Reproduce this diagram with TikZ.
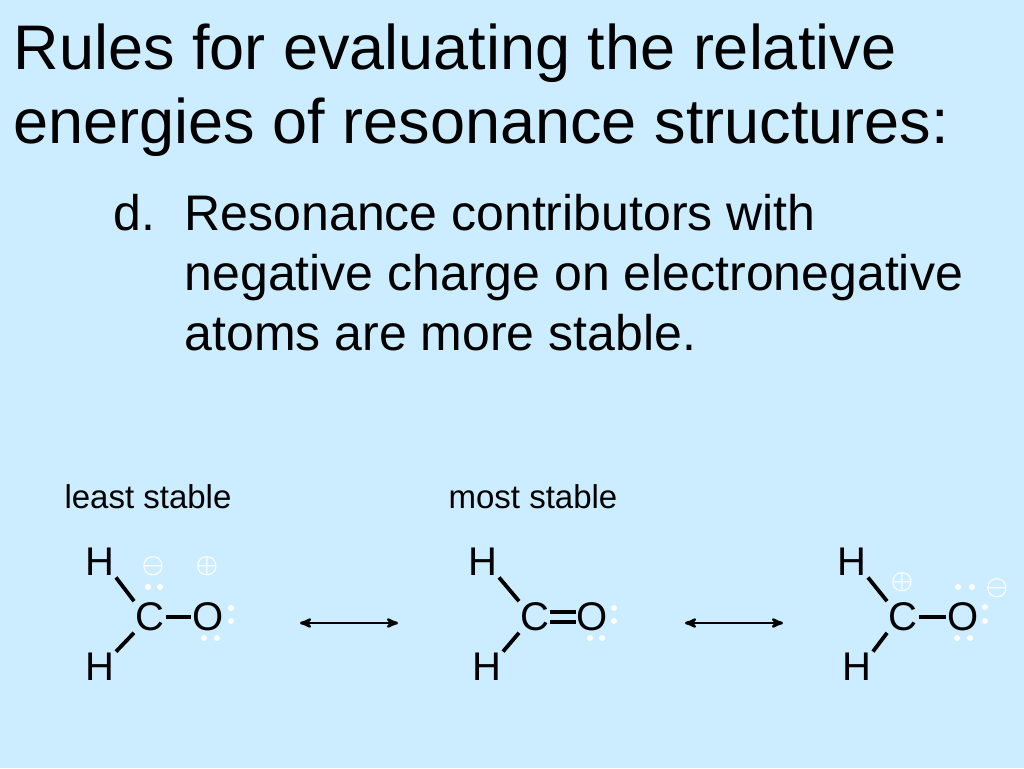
\documentclass[tikz,border=0pt]{standalone}
\usepackage{fontspec}
\setmainfont{Liberation Sans}
\usetikzlibrary{positioning}
\usetikzlibrary{arrows}
\definecolor{slide}{RGB}{204,236,255}

\begin{document}
\begin{tikzpicture}[x=1pt,y=-1pt,>=stealth',thick,
                    atom/.style={inner sep=0.5pt,font=\fontsize{40}{40}\selectfont},
                    bond/.style={line width=3.8pt,shorten >=1pt,shorten <=1pt},
                    lone/.style={white,fill=white},
                    charge/.style={white,font=\fontsize{34}{34}\selectfont\boldmath},
                    tag/.style={font=\fontsize{33}{33}\selectfont}]
\fill[slide] (0,0) rectangle (1024,768);
\useasboundingbox (0,0) rectangle (1024,768);

\node[anchor=base west,font=\fontsize{63}{63}\selectfont] (title1) at (10,70) {Rules for evaluating the relative};
\node[anchor=base west,font=\fontsize{63}{63}\selectfont] (title2) at (10,143) {energies of resonance structures:};
\node[anchor=base west,font=\fontsize{50}{50}\selectfont] (item) at (110,230) {d.};
\node[anchor=base west,font=\fontsize{50}{50}\selectfont] (line1) at (181,230) {Resonance contributors with};
\node[anchor=base west,font=\fontsize{50}{50}\selectfont] (line2) at (181,290) {negative charge on electronegative};
\node[anchor=base west,font=\fontsize{50}{50}\selectfont] (line3) at (181,350) {atoms are more stable.};

\node[tag,anchor=base] (least) at (148,508) {least stable};
\node[tag,anchor=base] (most) at (533,508) {most stable};

% left structure
\node[atom] (h1) at (100,562) {H};
\node[atom] (c1) at (150,617) {C};
\node[atom] (o1) at (208,617) {O};
\node[atom] (h2) at (100,667) {H};
\draw[bond] (h1.south east) -- (c1.north west);
\draw[bond] (h2.north east) -- (c1.south west);
\draw[bond] (c1.east) -- (o1.west);
\node[charge] (m1) at (153,566) {$\ominus$};
\node[charge] (p1) at (207,566) {$\oplus$};
\foreach \x/\y in {148/587,160/587,231/608,231/621,204/638,217/638}
  \fill[lone] (\x,\y) circle (3);

% middle structure
\node[atom] (h3) at (483,562) {H};
\node[atom] (c2) at (535,617) {C};
\node[atom] (o2) at (592,617) {O};
\node[atom] (h4) at (487,667) {H};
\draw[bond] (h3.south east) -- (c2.north west);
\draw[bond] (h4.north east) -- (c2.south west);
\draw[line width=3.5pt] ([yshift=-5]c2.east) -- ([yshift=-5]o2.west);
\draw[line width=3.5pt] ([yshift=5]c2.east) -- ([yshift=5]o2.west);
\foreach \x/\y in {614/608,614/621,590/638,602/638}
  \fill[lone] (\x,\y) circle (3);

% right structure
\node[atom] (h5) at (852,562) {H};
\node[atom] (c3) at (903,617) {C};
\node[atom] (o3) at (963,617) {O};
\node[atom] (h6) at (857,667) {H};
\draw[bond] (h5.south east) -- (c3.north west);
\draw[bond] (h6.north east) -- (c3.south west);
\draw[bond] (c3.east) -- (o3.west);
\node[charge] (p2) at (902,582) {$\oplus$};
\node[charge] (m2) at (997,588) {$\ominus$};
\foreach \x/\y in {958/587,972/587,985/607,985/621,957/638,970/638}
  \fill[lone] (\x,\y) circle (3);

% resonance arrows
\coordinate (a1) at (300,623);
\coordinate (b1) at (398,623);
\coordinate (a2) at (685,623);
\coordinate (b2) at (783,623);
\draw[<->,line width=2.6pt] (a1) -- (b1);
\draw[<->,line width=2.6pt] (a2) -- (b2);

\end{tikzpicture}
\end{document}
